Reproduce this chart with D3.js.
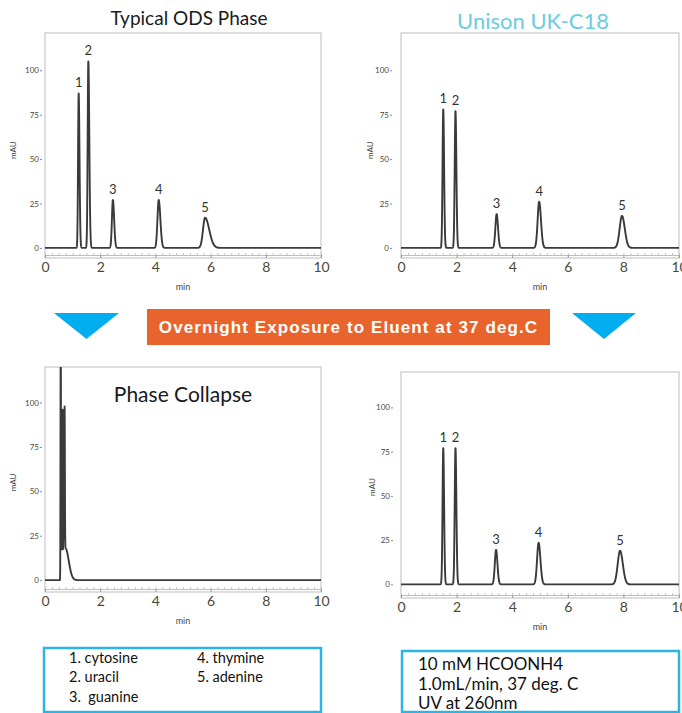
<!DOCTYPE html>
<html lang="en">
	<head>
		<meta charset="utf-8">
		<title>Typical ODS Phase vs Unison UK-C18</title>
		<script type="text/javascript" src="https://cdn.jsdelivr.net/npm/d3@7"></script>
		<style type="text/css">
			body { margin: 0; background: #fff; }
		</style>
	</head>
	<body>
		<script type="text/javascript">

			//Width and height
			var w = 682;
			var h = 713;
			var font = "Lato, 'Open Sans', sans-serif";

			//Axis ticks
			var xTicks = [0, 2, 4, 6, 8, 10];
			var yTicks = [0, 25, 50, 75, 100];
			var peakNames = ["1", "2", "3", "4", "5"];

			//Typical ODS phase, fresh column (retention min, mAU, front width, tail width)
			var odsTimes = [1.22, 1.57, 2.46, 4.12, 5.80];
			var odsHeights = [87, 105, 27, 27, 17];
			var odsFront = [0.022, 0.024, 0.035, 0.045, 0.075];
			var odsTail = [0.030, 0.035, 0.045, 0.060, 0.150];

			//Unison UK-C18, fresh column
			var unisonTimes = [1.52, 1.96, 3.44, 4.97, 7.95];
			var unisonHeights = [78, 77, 19, 26, 18];
			var unisonFront = [0.026, 0.028, 0.045, 0.055, 0.085];
			var unisonTail = [0.030, 0.032, 0.050, 0.065, 0.100];

			//Typical ODS phase after overnight exposure (phase collapse)
			var collapseTimes = [0.57, 0.605, 0.64, 0.675, 0.71, 0.74];
			var collapseHeights = [150, 92, 96, 94, 92, 18];
			var collapseFront = [0.008, 0.008, 0.008, 0.008, 0.009, 0.020];
			var collapseTail = [0.008, 0.008, 0.008, 0.008, 0.010, 0.120];

			//Unison UK-C18 after overnight exposure
			var afterTimes = [1.52, 1.96, 3.42, 4.95, 7.88];
			var afterHeights = [77, 77, 19.5, 23.5, 19];
			var afterFront = [0.026, 0.028, 0.045, 0.055, 0.085];
			var afterTail = [0.030, 0.032, 0.050, 0.065, 0.100];

			//Texts
			var bannerText = "Overnight Exposure to Eluent at 37 deg.C";
			var analytes = ["1. cytosine", "2. uracil", "3.  guanine", "4. thymine", "5. adenine"];
			var conditions = ["10 mM HCOONH4", "1.0mL/min, 37 deg. C", "UV at 260nm"];

			//Panel layout
			var panels = [
				{ id: "ods", times: odsTimes, heights: odsHeights, front: odsFront, tail: odsTail,
				  x0: 45, x1: 321, top: 33, axisY: 255, yMin: -4, yMax: 121, yAxisX: 42, mauX: 13,
				  title: "Typical ODS Phase", titleX: 189, titleY: 25, titleSize: 19, titleColor: "#1a1a1a", labels: true },
				{ id: "unison", times: unisonTimes, heights: unisonHeights, front: unisonFront, tail: unisonTail,
				  x0: 401, x1: 679, top: 33, axisY: 255, yMin: -4, yMax: 121, yAxisX: 392, mauX: 370,
				  title: "Unison UK-C18", titleX: 533, titleY: 29, titleSize: 22, titleColor: "#6ccbe0", labels: true },
				{ id: "collapse", times: collapseTimes, heights: collapseHeights, front: collapseFront, tail: collapseTail,
				  x0: 45, x1: 321, top: 367, axisY: 589, yMin: -5, yMax: 120, yAxisX: 42, mauX: 13,
				  title: "Phase Collapse", titleX: 183, titleY: 402, titleSize: 21, titleColor: "#1a1a1a", labels: false },
				{ id: "after", times: afterTimes, heights: afterHeights, front: afterFront, tail: afterTail,
				  x0: 401, x1: 679, top: 372, axisY: 595, yMin: -6, yMax: 120, yAxisX: 393, mauX: 372,
				  title: null, labels: true }
			];

			//Sampling grid for the traces
			var grid = d3.range(0, 10.0001, 0.002);

			//Sum of asymmetric gaussian peaks
			function signal(p, t) {
				var s = 0;
				for (var i = 0; i < p.times.length; i++) {
					var sd = t < p.times[i] ? p.front[i] : p.tail[i];
					var z = (t - p.times[i]) / sd;
					s += p.heights[i] * Math.exp(-0.5 * z * z);
				}
				return s;
			}

			//Create SVG element
			var svg = d3.select("body")
						.append("svg")
						.attr("width", w)
						.attr("height", h)
						.style("font-family", font);

			panels.forEach(function(p) {
				var xScale = d3.scaleLinear()
								.domain([0, 10])
								.range([p.x0, p.x1]);
				var yScale = d3.scaleLinear()
								.domain([p.yMin, p.yMax])
								.range([p.axisY, p.top]);

				var g = svg.append("g");

				//Clip
				svg.append("clipPath")
				   .attr("id", "clip-" + p.id)
				   .append("rect")
				   .attr("x", p.x0)
				   .attr("y", p.top)
				   .attr("width", p.x1 - p.x0)
				   .attr("height", p.axisY - p.top);

				//Frame
				g.append("rect")
				 .attr("x", p.x0)
				 .attr("y", p.top)
				 .attr("width", p.x1 - p.x0)
				 .attr("height", p.axisY - p.top + 3)
				 .attr("fill", "none")
				 .attr("stroke", "#bdbdbd")
				 .attr("stroke-width", 1);

				//Minor ticks along the x axis
				var minor = g.append("g")
							 .attr("transform", "translate(0," + p.axisY + ")")
							 .call(d3.axisBottom(xScale).tickValues(d3.range(0, 10.01, 0.25)).tickSize(-2).tickFormat(""));
				minor.selectAll("line").attr("stroke", "#c4c4c4");
				minor.select(".domain").attr("stroke", "#bdbdbd");

				//X axis
				var xAxis = g.append("g")
							 .attr("transform", "translate(0," + p.axisY + ")")
							 .call(d3.axisBottom(xScale).tickValues(xTicks).tickSize(3).tickPadding(4));
				xAxis.select(".domain").remove();
				xAxis.selectAll("line").attr("stroke", "#999");
				xAxis.selectAll("text")
					 .style("font-family", font)
					 .attr("font-size", "14px")
					 .attr("fill", "#4a4a3a");

				g.append("text")
				 .attr("x", (p.x0 + p.x1) / 2)
				 .attr("y", p.axisY + 35)
				 .attr("text-anchor", "middle")
				 .attr("font-size", "9px")
				 .attr("fill", "#444")
				 .text("min");

				//Y axis
				var yAxis = g.append("g")
							 .attr("transform", "translate(" + p.yAxisX + ",0)")
							 .call(d3.axisLeft(yScale).tickValues(yTicks).tickSize(2).tickPadding(1));
				yAxis.select(".domain").remove();
				yAxis.selectAll("line").attr("stroke", "#888");
				yAxis.selectAll("text")
					 .style("font-family", font)
					 .attr("font-size", "8px")
					 .attr("fill", "#4a4a3a");

				g.append("text")
				 .attr("transform", "translate(" + p.mauX + "," + yScale(55) + ") rotate(-90)")
				 .attr("text-anchor", "middle")
				 .attr("dy", "0.35em")
				 .attr("font-size", "8px")
				 .attr("fill", "#444")
				 .text("mAU");

				//Trace
				var line = d3.line()
							 .x(function(t) { return xScale(t); })
							 .y(function(t) { return yScale(signal(p, t)); });

				g.append("path")
				 .datum(grid)
				 .attr("clip-path", "url(#clip-" + p.id + ")")
				 .attr("d", line)
				 .attr("fill", "none")
				 .attr("stroke", "#3a3a3a")
				 .attr("stroke-width", 1.9)
				 .attr("stroke-linejoin", "round");

				//Peak labels
				if (p.labels) {
					g.selectAll("text.peak")
					 .data(peakNames)
					 .enter()
					 .append("text")
					 .attr("class", "peak")
					 .attr("x", function(d, i) { return xScale(p.times[i]); })
					 .attr("y", function(d, i) { return yScale(p.heights[i]) - 6; })
					 .attr("text-anchor", "middle")
					 .attr("font-size", "13px")
					 .attr("fill", "#333")
					 .text(function(d) { return d; });
				}

				//Title
				if (p.title) {
					g.append("text")
					 .attr("x", p.titleX)
					 .attr("y", p.titleY)
					 .attr("text-anchor", "middle")
					 .attr("font-size", p.titleSize + "px")
					 .attr("fill", p.titleColor)
					 .text(p.title);
				}
			});

			//Banner with arrows
			svg.append("polygon")
			   .attr("points", "54,313 119,313 86.5,339")
			   .attr("fill", "#00aeef");
			svg.append("polygon")
			   .attr("points", "572,313 636,313 604,339")
			   .attr("fill", "#00aeef");
			svg.append("rect")
			   .attr("x", 147)
			   .attr("y", 309)
			   .attr("width", 403)
			   .attr("height", 36)
			   .attr("fill", "#e9642c");
			svg.append("text")
			   .attr("x", 348.5)
			   .attr("y", 333)
			   .attr("text-anchor", "middle")
			   .style("font-family", "'Liberation Sans', Arial, sans-serif")
			   .style("letter-spacing", "1.1px")
			   .attr("font-weight", "bold")
			   .attr("font-size", "17px")
			   .attr("fill", "#fff")
			   .text(bannerText);

			//Analyte box
			svg.append("rect")
			   .attr("x", 44)
			   .attr("y", 648)
			   .attr("width", 277)
			   .attr("height", 64)
			   .attr("fill", "none")
			   .attr("stroke", "#2db4e6")
			   .attr("stroke-width", 2.5);
			svg.selectAll("text.analyte")
			   .data(analytes)
			   .enter()
			   .append("text")
			   .attr("class", "analyte")
			   .attr("x", function(d, i) { return i < 3 ? 69 : 197; })
			   .attr("y", function(d, i) { return 663 + (i % 3) * 19.3; })
			   .attr("font-size", "14.5px")
			   .attr("fill", "#111")
			   .attr("xml:space", "preserve")
			   .text(function(d) { return d; });

			//Conditions box
			svg.append("rect")
			   .attr("x", 402)
			   .attr("y", 651)
			   .attr("width", 277)
			   .attr("height", 61)
			   .attr("fill", "none")
			   .attr("stroke", "#2db4e6")
			   .attr("stroke-width", 2.5);
			svg.selectAll("text.cond")
			   .data(conditions)
			   .enter()
			   .append("text")
			   .attr("class", "cond")
			   .attr("x", 418)
			   .attr("y", function(d, i) { return 670 + i * 19.5; })
			   .attr("font-size", "17px")
			   .attr("fill", "#111")
			   .text(function(d) { return d; });

		</script>
	</body>
</html>
